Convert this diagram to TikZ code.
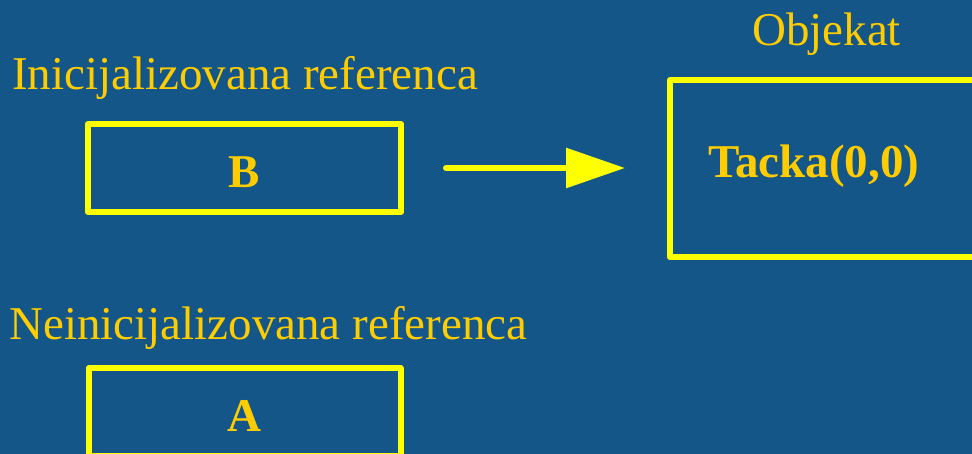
\documentclass[tikz,border=0pt]{standalone}
\usepackage{fontspec}
\setmainfont{Liberation Serif}
\usetikzlibrary{arrows.meta}
\definecolor{bgblue}{RGB}{20,86,136}
\definecolor{gold}{RGB}{255,204,0}
\definecolor{yel}{RGB}{255,255,0}
\tikzset{
  refbox/.style={draw=yel, line width=6pt, rectangle, inner sep=0pt, line join=round},
  title/.style={text=gold, anchor=base west, inner sep=0pt, font=\fontsize{47pt}{56pt}\selectfont},
  boxtext/.style={text=gold, inner sep=0pt, font=\fontsize{47pt}{56pt}\selectfont\bfseries},
  pointer/.style={draw=yel, line width=6pt, line cap=round, -{Triangle[length=59pt,width=39pt,fill=yel]}}
}
\begin{document}
\begin{tikzpicture}[x=1pt,y=-1pt]
\useasboundingbox (0,0) rectangle (972,454);
\fill[bgblue] (0,0) rectangle (972,454);
\clip (0,0) rectangle (972,454);
% boxes
\node[refbox, minimum width=313pt, minimum height=88pt] (B) at (244.5,168) {};
\node[refbox, minimum width=340pt, minimum height=177pt] (obj) at (840,168.5) {};
\node[refbox, minimum width=312pt, minimum height=88pt] (A) at (244.5,412) {};
% titles
\node[title] (t1) at (12,90) {Inicijalizovana referenca};
\node[title] (t2) at (752,46) {Objekat};
\node[title] (t3) at (9,340) {Neinicijalizovana referenca};
% box texts
\node[boxtext, anchor=base] (tb) at (244.5,188) {B};
\node[boxtext, anchor=base] (ta) at (244.5,431) {A};
\node[boxtext, anchor=base west] (tt) at (708,178) {Tacka(0,0)};
% arrow
\draw[pointer, shorten <=42pt, shorten >=42pt] (B.east) -- (B.east -| obj.west);
\end{tikzpicture}
\end{document}
